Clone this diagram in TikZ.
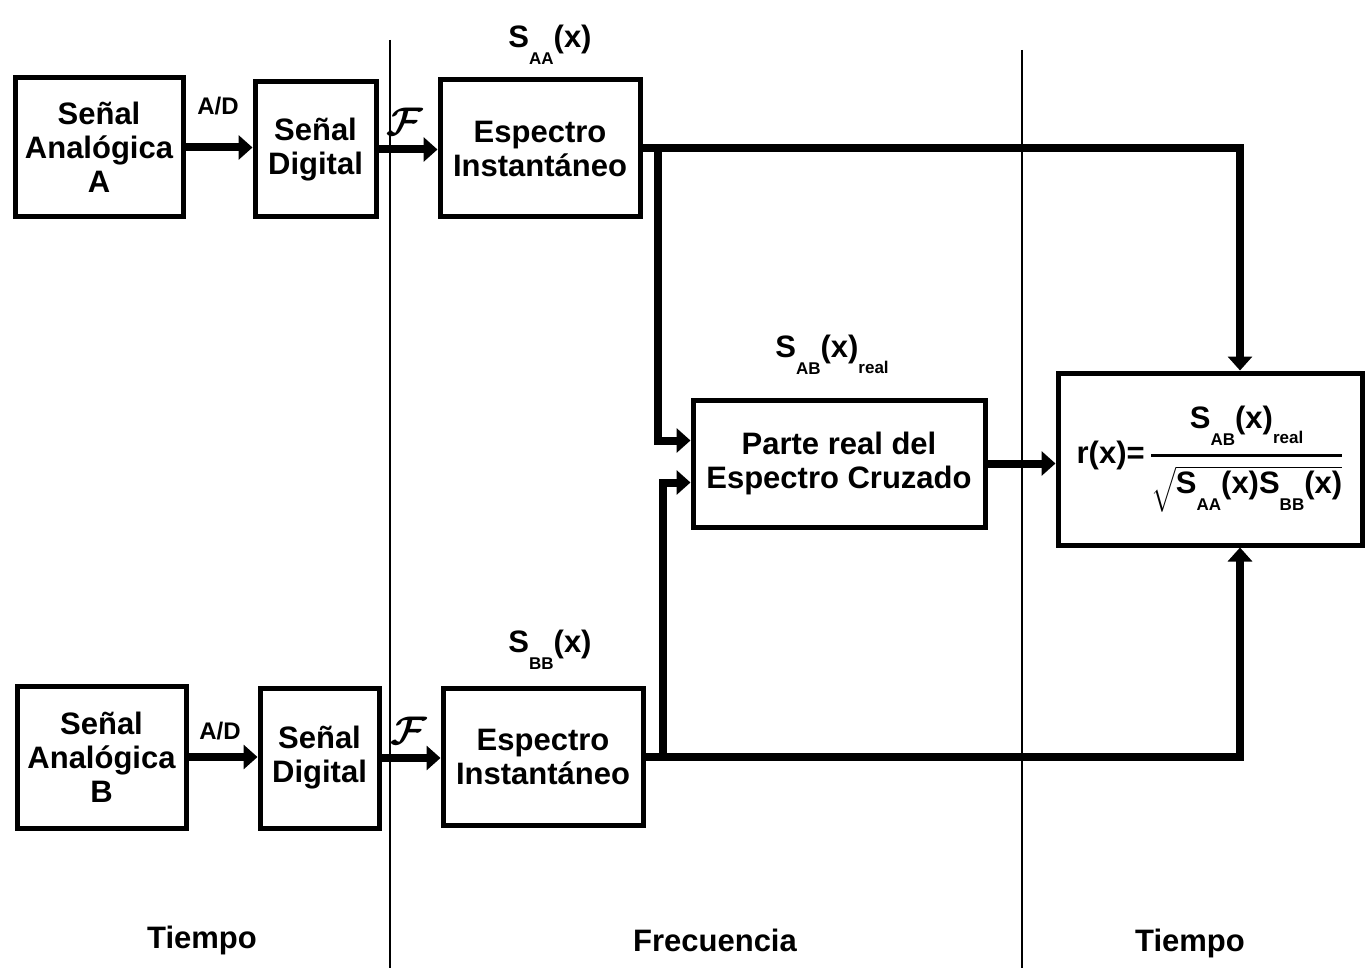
\documentclass[tikz,border=0pt]{standalone}
\usepackage{fix-cm}
\usepackage{amsmath}
\usepackage{fontspec}
\setmainfont{Liberation Sans}
\usetikzlibrary{arrows.meta}
\newcommand\Ssub[2]{S\raisebox{-0.55em}{\fontsize{17}{17}\selectfont #1}#2}
\tikzset{
  blk/.style={draw, line width=5pt, align=center, inner sep=2pt,
    font=\fontsize{31}{34}\selectfont\bfseries},
  lbl/.style={font=\fontsize{31}{34}\selectfont\bfseries, inner sep=0pt},
  sep/.style={line width=2pt},
  wire/.style={line width=8pt, line join=miter},
  arr/.style={wire, -{Triangle[length=14pt,width=24pt]}}
}
\begin{document}
\begin{tikzpicture}[x=1pt,y=-1pt]
\useasboundingbox (0,0) rectangle (1365,968);
% separators
\draw[sep] (390,40) -- (390,968);
\draw[sep] (1022,50) -- (1022,968);
% boxes
\node[blk, minimum width=168pt, minimum height=139pt] (A1) at (99,147.5) {Señal\\Analógica\\A};
\node[blk, minimum width=121pt, minimum height=135pt] (D1) at (315.5,149.5) {Señal\\Digital};
\node[blk, minimum width=200pt, minimum height=137pt] (E1) at (540,148.5) {Espectro\\Instantáneo};
\node[blk, minimum width=169pt, minimum height=142pt] (B1) at (101.5,757) {Señal\\Analógica\\B};
\node[blk, minimum width=119pt, minimum height=140pt] (D2) at (319.5,758) {Señal\\Digital};
\node[blk, minimum width=200pt, minimum height=137pt] (E2) at (543,756.5) {Espectro\\Instantáneo};
\node[blk, minimum width=292pt, minimum height=127pt] (P) at (839,463.5) {Parte real del\\Espectro Cruzado};
\node[blk, minimum width=304pt, minimum height=172pt, inner sep=1pt] (R) at (1210,459)
  {$\text{r(x)=}\,\genfrac{}{}{3pt}{0}{\text{\Ssub{AB}{(x)}\raisebox{-0.5em}{\fontsize{17}{17}\selectfont real}}}
   {\sqrt{\text{\Ssub{AA}{(x)}\Ssub{BB}{(x)}}}}$};
% labels
\node[lbl] (sAA) at (550,45) {\Ssub{AA}{(x)}};
\node[lbl] (sBB) at (550,650) {\Ssub{BB}{(x)}};
\node[lbl] (sAB) at (832,355) {\Ssub{AB}{(x)}\raisebox{-0.5em}{\fontsize{17}{17}\selectfont real}};
\node[lbl, font=\fontsize{24}{24}\selectfont\bfseries] (ad1) at (218,106) {A/D};
\node[lbl, font=\fontsize{24}{24}\selectfont\bfseries] (ad2) at (220,731) {A/D};
\node[lbl, font=\fontsize{40}{40}\selectfont] (f1) at (405,122) {$\boldsymbol{\mathcal{F}}$};
\node[lbl, font=\fontsize{40}{40}\selectfont] (f2) at (409,731) {$\boldsymbol{\mathcal{F}}$};
\node[lbl] (t1) at (202,940) {Tiempo};
\node[lbl] (fr) at (715,940) {Frecuencia};
\node[lbl] (t2) at (1190,943) {Tiempo};
% connectors top
\draw[arr] (A1.east) -- (A1.east -| D1.west);
\draw[arr] (D1.east) -- (D1.east -| E1.west);
\coordinate (j1) at ([xshift=15pt]E1.east);
\draw[arr] (E1.east) -| ([xshift=30pt]R.north);
\draw[arr] (j1) |- ([yshift=23pt]P.west);
% connectors bottom
\draw[arr] (B1.east) -- (B1.east -| D2.west);
\draw[arr] (D2.east) -- (D2.east -| E2.west);
\coordinate (j2) at ([xshift=17pt]E2.east);
\draw[arr] (E2.east) -| ([xshift=30pt]R.south);
\draw[arr] (j2) |- ([yshift=-19pt]P.west);
% P to R
\draw[arr] (P.east) -- (P.east -| R.west);
\end{tikzpicture}
\end{document}
